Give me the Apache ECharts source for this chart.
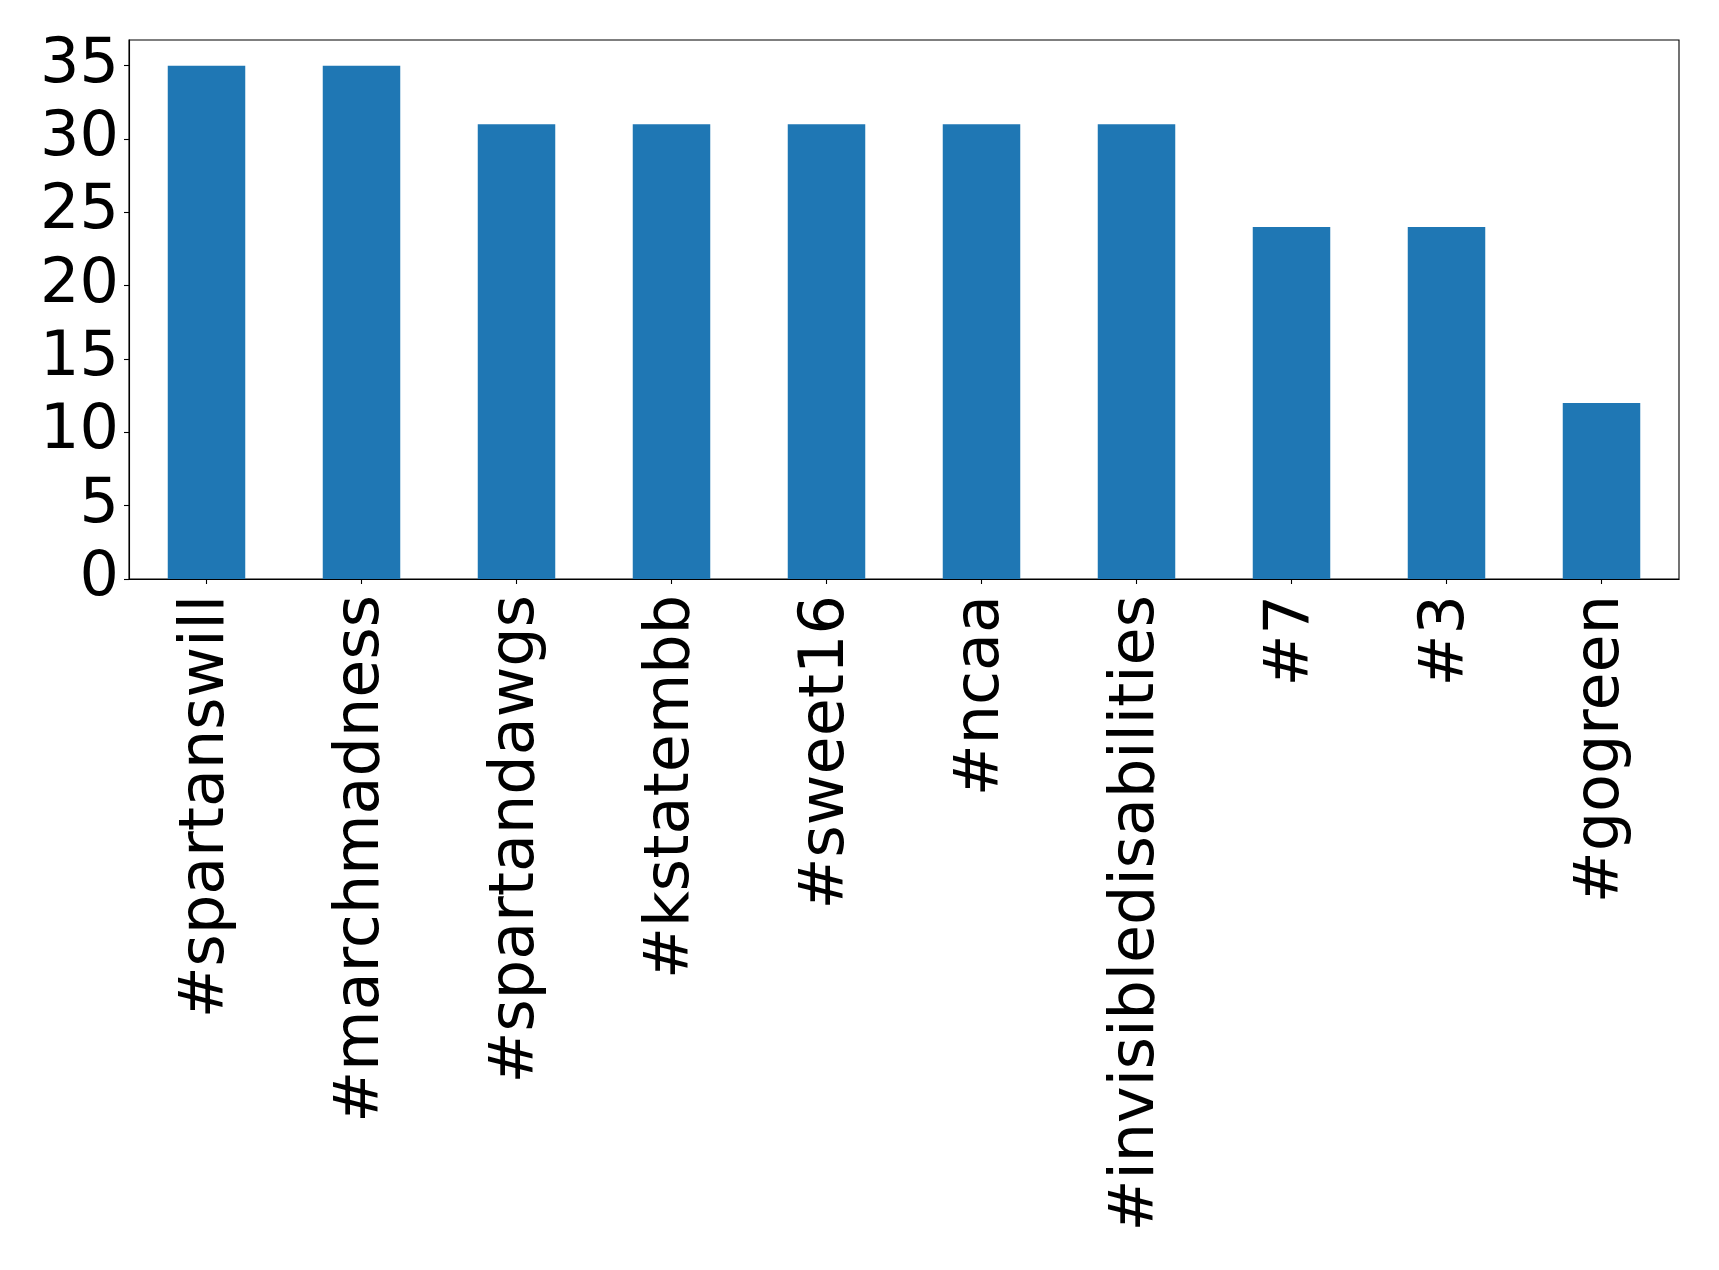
<!DOCTYPE html>
<html>
<head>
<meta charset="utf-8">
<script src="https://cdn.jsdelivr.net/npm/echarts@6/dist/echarts.min.js"></script>
<style>
html,body{margin:0;padding:0;background:#fff;}
#c{width:1719px;height:1270px;}
</style>
</head>
<body>
<div id="c"></div>
<script>
const categories = ['#spartanswill','#marchmadness','#spartandawgs','#kstatembb','#sweet16','#ncaa','#invisibledisabilities','#7','#3','#gogreen'];
const values = [35,35,31,31,31,31,31,24,24,12];
const yTicks = [0,5,10,15,20,25,30,35];

const chart = echarts.init(document.getElementById('c'), null, {renderer:'canvas'});
chart.setOption({
  animation:false,
  backgroundColor:'#ffffff',
  grid:{left:129, right:40, top:40, bottom:691, show:true, borderColor:'#000', borderWidth:1.1, containLabel:false},
  xAxis:{
    type:'category',
    data:categories,
    boundaryGap:true,
    axisLine:{show:true, lineStyle:{color:'#000', width:1.1}},
    axisTick:{show:true, alignWithLabel:true, length:5, lineStyle:{color:'#000', width:1.1}},
    axisLabel:{interval:0, rotate:90, margin:16, color:'#000', fontFamily:'DejaVu Sans', fontSize:62},
    splitLine:{show:false}
  },
  yAxis:{
    type:'value',
    min:0, max:36.75, interval:5,
    axisLine:{show:true, lineStyle:{color:'#000', width:1.1}},
    axisTick:{show:true, length:5, lineStyle:{color:'#000', width:1.1}},
    axisLabel:{showMaxLabel:false, margin:10, color:'#000', fontFamily:'DejaVu Sans', fontSize:62,
      formatter:function(v){return yTicks.indexOf(v)>=0 ? String(v) : '';}},
    splitLine:{show:false}
  },
  series:[{type:'bar', data:values, barWidth:'50%', itemStyle:{color:'#1f77b4'}}]
});
</script>
</body>
</html>
